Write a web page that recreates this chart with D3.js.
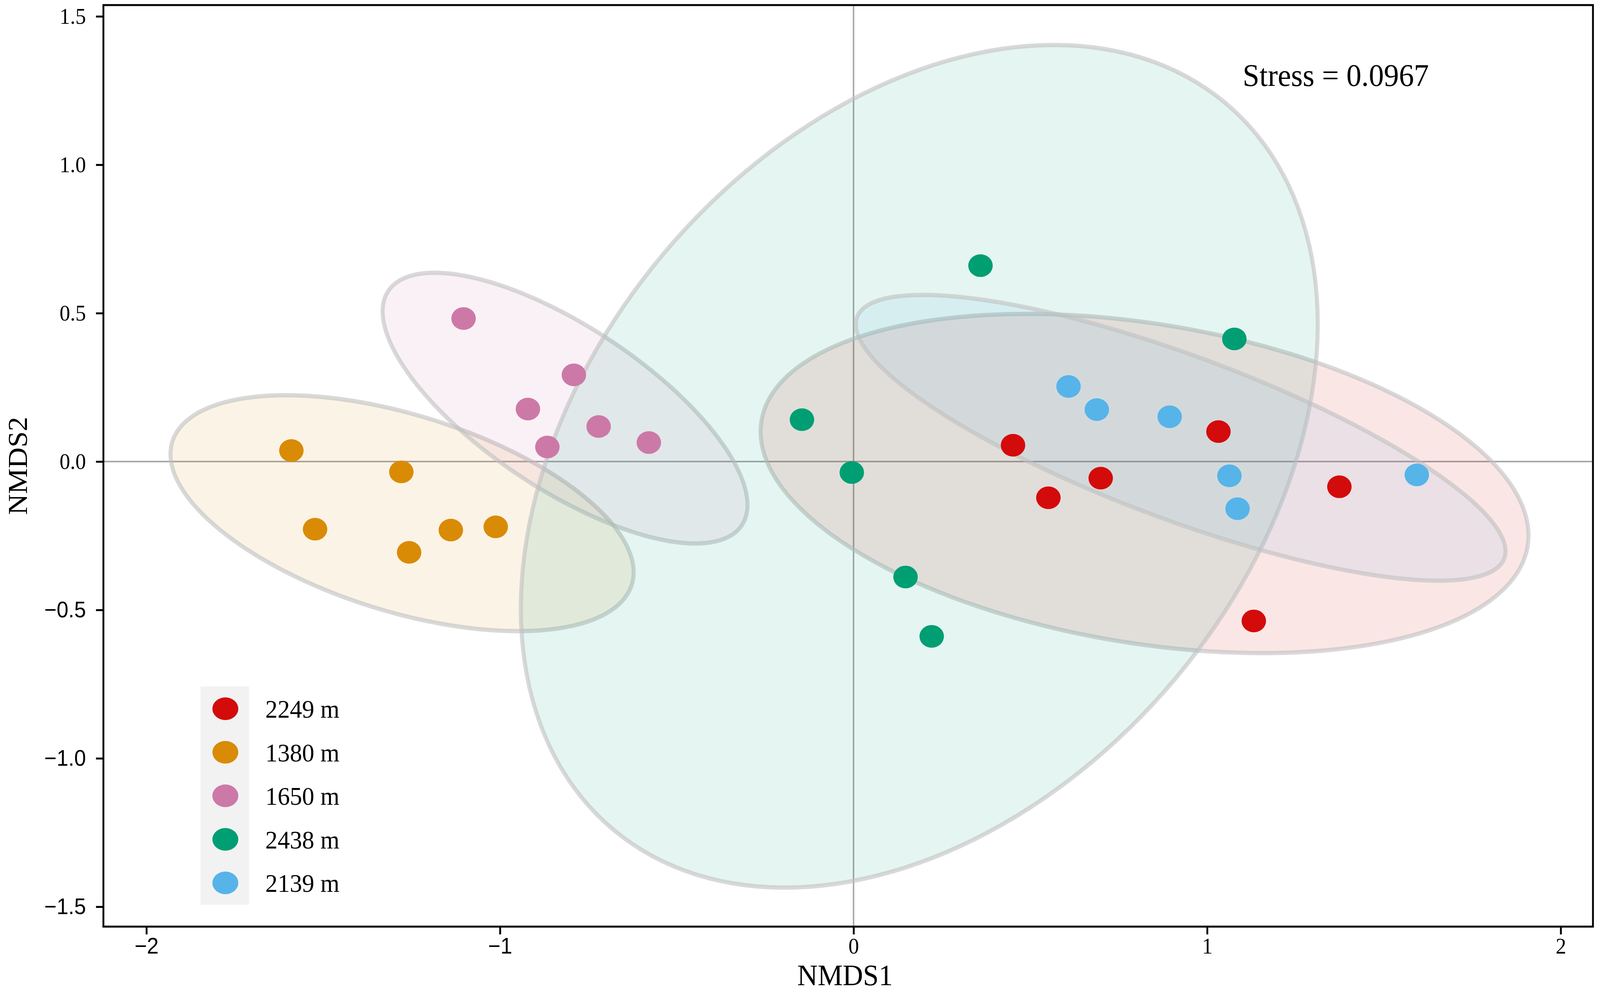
<!DOCTYPE html>
<html>
<head>
<meta charset="utf-8">
<script src="https://cdn.jsdelivr.net/npm/d3@7"></script>
<style>
  html, body { margin: 0; padding: 0; background: #fff; overflow: hidden; width: 100%; height: 100%; }
  svg { display: block; width: 100vw; height: 100vh; }
  text { font-family: "Liberation Serif", "Times New Roman", serif; fill: #000; }
</style>
</head>
<body>
<svg id="nmds-chart" viewBox="0 0 4317 2543" preserveAspectRatio="none"></svg>
<script>
// groups, in legend order
var groups = ["2249 m", "1380 m", "1650 m", "2438 m", "2139 m"];
var colors = ["#D40B0B", "#D98B05", "#CC79A7", "#009E73", "#56B4E9"];

// sample scores
var site = ["2249 m", "2249 m", "2249 m", "2249 m", "2249 m", "2249 m",
            "1380 m", "1380 m", "1380 m", "1380 m", "1380 m", "1380 m",
            "1650 m", "1650 m", "1650 m", "1650 m", "1650 m", "1650 m",
            "2438 m", "2438 m", "2438 m", "2438 m", "2438 m", "2438 m",
            "2139 m", "2139 m", "2139 m", "2139 m", "2139 m", "2139 m"];
var nmds1 = [0.451, 0.551, 0.699, 1.032, 1.374, 1.132,
             -1.590, -1.279, -1.523, -1.257, -1.139, -1.012,
             -1.103, -0.791, -0.921, -0.721, -0.866, -0.579,
             0.359, 1.077, -0.146, -0.005, 0.147, 0.221,
             0.608, 0.688, 0.894, 1.063, 1.086, 1.593];
var nmds2 = [0.055, -0.122, -0.056, 0.101, -0.085, -0.537,
             0.037, -0.035, -0.228, -0.306, -0.231, -0.220,
             0.482, 0.292, 0.177, 0.118, 0.049, 0.064,
             0.660, 0.413, 0.141, -0.037, -0.389, -0.589,
             0.253, 0.175, 0.151, -0.048, -0.159, -0.045];

// group ellipses: centre and conjugate semi-axes (NMDS units), one per group
var ellCx = [0.823, -1.277, -0.816, 0.186, 0.925];
var ellCy = [-0.074, -0.174, 0.180, -0.016, 0.080];
var ellUx = [1.086, 0.655, 0.516, 1.127, 0.919];
var ellUy = [-0.175, -0.199, -0.326, 0.480, -0.382];
var ellVy = [0.544, 0.344, 0.319, 1.336, 0.293];

var xTicks = [-2, -1, 0, 1, 2];
var yTicks = [-1.5, -1.0, -0.5, 0.0, 0.5, 1.0, 1.5];
var stressLabel = "Stress = 0.0967";

var panelLeft = 279, panelRight = 4298, panelTop = 13, panelBottom = 2373;
var xScale = d3.scaleLinear().domain([-2.1216, 2.0912]).range([panelLeft, panelRight]);
var yScale = d3.scaleLinear().domain([-1.567, 1.538]).range([panelBottom, panelTop]);
var colorScale = d3.scaleOrdinal().domain(groups).range(colors);

var svg = d3.select("#nmds-chart");
svg.append('rect').attr('width', 4317).attr('height', 2543).attr('fill', '#fff');

// zero lines
svg.append('line').attr('x1', xScale(0)).attr('x2', xScale(0)).attr('y1', panelTop).attr('y2', panelBottom)
  .attr('stroke', '#a8a8a8').attr('stroke-width', 4);
svg.append('line').attr('x1', panelLeft).attr('x2', panelRight).attr('y1', yScale(0)).attr('y2', yScale(0))
  .attr('stroke', '#a8a8a8').attr('stroke-width', 4);

// ellipses
var angles = d3.range(0, 360, 2).map(function(d) { return d * Math.PI / 180; });
var ellLine = d3.line().curve(d3.curveLinearClosed)
  .x(function(d) { return xScale(d[0]); })
  .y(function(d) { return yScale(d[1]); });

svg.append('g').selectAll('path')
  .data(groups)
  .enter()
  .append('path')
  .attr('d', function(g, i) {
    return ellLine(angles.map(function(t) {
      return [ellCx[i] + ellUx[i] * Math.cos(t), ellCy[i] + ellUy[i] * Math.cos(t) + ellVy[i] * Math.sin(t)];
    }));
  })
  .attr('fill', function(g) { return colorScale(g); })
  .attr('fill-opacity', 0.1)
  .attr('stroke', '#c0c0c0')
  .attr('stroke-opacity', 0.6)
  .attr('stroke-width', 11);

// points
svg.append('g').selectAll('ellipse')
  .data(site)
  .enter()
  .append('ellipse')
  .attr('cx', function(d, i) { return xScale(nmds1[i]); })
  .attr('cy', function(d, i) { return yScale(nmds2[i]); })
  .attr('rx', 33)
  .attr('ry', 29)
  .attr('fill', function(d) { return colorScale(d); });

// axes
function tickFont(sel) {
  sel.selectAll('text')
    .attr('fill', '#2b2b2b')
    .style('font-size', '57px')
    .style('font-family', function(d) { return d < 0 ? '"Liberation Sans", Arial, sans-serif' : '"Liberation Serif", serif'; });
  sel.selectAll('.tick line').attr('stroke', '#000').attr('stroke-width', 5);
  sel.select('.domain').remove();
}
var fmtY = function(d) { return d < 0 ? '\u2212' + d3.format('.1f')(-d) : d3.format('.1f')(d); };
var fmtX = function(d) { return d < 0 ? '\u2212' + (-d) : '' + d; };

svg.append('g').attr('transform', 'translate(0,' + panelBottom + ')')
  .call(d3.axisBottom(xScale).tickValues(xTicks).tickFormat(fmtX).tickSize(20).tickPadding(9))
  .call(tickFont);
svg.append('g').attr('transform', 'translate(' + panelLeft + ',0)')
  .call(d3.axisLeft(yScale).tickValues(yTicks).tickFormat(fmtY).tickSize(20).tickPadding(27))
  .call(tickFont);

// panel border
svg.append('rect').attr('x', panelLeft).attr('y', panelTop)
  .attr('width', panelRight - panelLeft).attr('height', panelBottom - panelTop)
  .attr('fill', 'none').attr('stroke', '#000').attr('stroke-width', 5);

// axis titles
svg.append('text').attr('transform', 'translate(2280, 2523)')
  .attr('text-anchor', 'middle').style('font-size', '76px').text("NMDS1");
svg.append('text').attr('transform', 'translate(73, ' + ((panelTop + panelBottom) / 2) + ') rotate(-90)')
  .attr('text-anchor', 'middle').style('font-size', '74px').text("NMDS2");

// stress annotation
svg.append('text').attr('x', 3353).attr('y', 220).style('font-size', '81px').text(stressLabel);

// legend
var legend = svg.append('g').attr('transform', 'translate(541, 1758)');
legend.append('rect').attr('width', 131).attr('height', 559).attr('fill', '#f2f2f2');
var keys = legend.selectAll('g.key')
  .data(groups)
  .enter()
  .append('g')
  .attr('class', 'key')
  .attr('transform', function(d, i) { return 'translate(0,' + (57 + i * 111.5) + ')'; });
keys.append('ellipse').attr('cx', 67).attr('cy', 0).attr('rx', 35).attr('ry', 29)
  .attr('fill', function(d) { return colorScale(d); });
keys.append('text').attr('x', 175).attr('y', 0).attr('dy', '0.35em')
  .style('font-size', '66px').text(function(d) { return d; });
</script>
</body>
</html>
